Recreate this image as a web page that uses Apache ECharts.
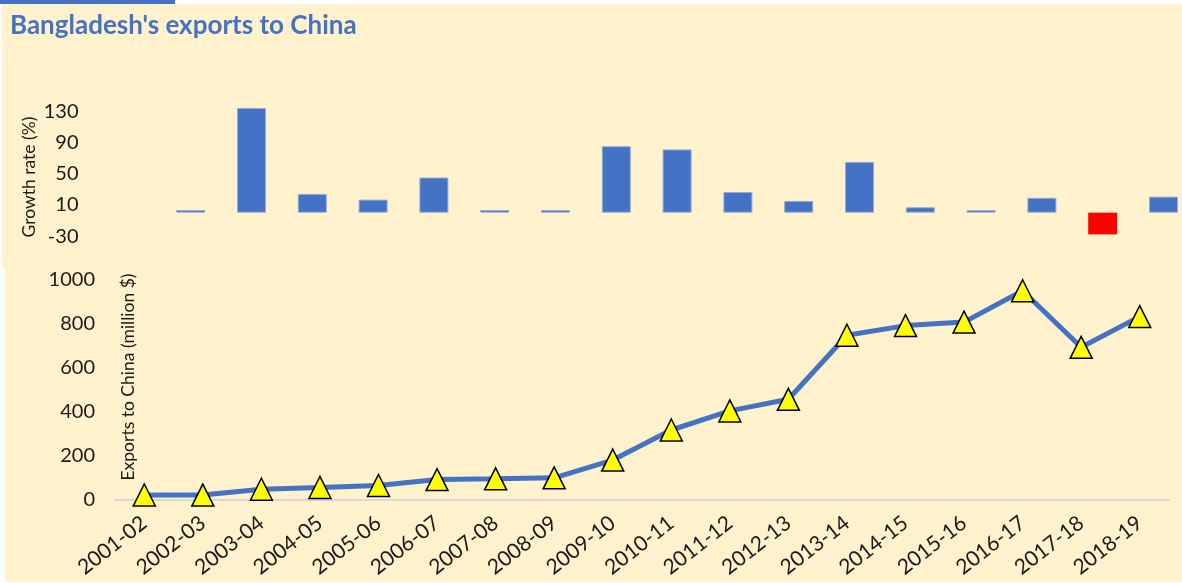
<!DOCTYPE html>
<html><head><meta charset="utf-8">
<script src="https://cdn.jsdelivr.net/npm/echarts@6/dist/echarts.min.js"></script>
<style>html,body{margin:0;padding:0;background:#fff}#c{width:1182px;height:583px}</style>
</head><body><div id="c"></div>
<script>
const categories = ['2001-02','2002-03','2003-04','2004-05','2005-06','2006-07','2007-08','2008-09','2009-10','2010-11','2011-12','2012-13','2013-14','2014-15','2015-16','2016-17','2017-18','2018-19'];
const growthRate = [null, 3.4, 134, 24, 16.7, 45, 3.4, 3.4, 85, 81, 26.5, 15, 65, 6.9, 3.2, 19, -27.8, 20.5];
const exportsValue = [19.6, 19.4, 46, 54, 63, 90, 93.5, 98, 179, 316, 403, 456, 748, 792, 808, 951, 693, 833];
const growthTicks = [-30, 10, 50, 90, 130];
const exportTicks = [0, 200, 400, 600, 800, 1000];

const FONT = 'Lato';
const TXT = '#1a1a1a';
const chart = echarts.init(document.getElementById('c'), null, {renderer: 'canvas'});
chart.setOption({
  animation: false,
  backgroundColor: '#ffffff',
  title: {
    text: "Bangladesh's exports to China",
    left: 10, top: 13, padding: 0,
    textStyle: {fontFamily: FONT, fontWeight: 'bold', fontSize: 26, color: '#4472C4'}
  },
  graphic: [
    {type: 'rect', z: -10, shape: {x: 0, y: 0, width: 175, height: 4}, style: {fill: '#4472C4'}},
    {type: 'rect', z: -10, shape: {x: 2, y: 4, width: 1180, height: 264}, style: {fill: '#FFF2CC'}},
    {type: 'rect', z: -10, shape: {x: 5, y: 262, width: 1177, height: 320}, style: {fill: '#FFF2CC'}},
    {type: 'text', z: 5, x: 29, y: 177, rotation: Math.PI / 2,
      style: {text: 'Growth rate (%)', fontFamily: FONT, fontSize: 17.5, fill: TXT, align: 'center', verticalAlign: 'middle'}},
    {type: 'text', z: 5, x: 128, y: 377, rotation: Math.PI / 2,
      style: {text: 'Exports to China (million $)', fontFamily: FONT, fontSize: 17.5, fill: TXT, align: 'center', verticalAlign: 'middle'}}
  ],
  grid: [
    {left: 129.9, width: 1033.6, top: 103.3, height: 132.8, containLabel: false},
    {left: 115, right: 13, top: 280, height: 219.3, containLabel: false}
  ],
  xAxis: [
    {type: 'category', gridIndex: 0, data: categories, boundaryGap: false,
      axisLine: {show: false}, axisTick: {show: false}, axisLabel: {show: false}, splitLine: {show: false}},
    {type: 'category', gridIndex: 1, data: categories,
      axisLine: {show: true, lineStyle: {color: '#d9d9d9', width: 2}},
      axisTick: {show: false},
      axisLabel: {interval: 0, rotate: 38, margin: 21, fontFamily: FONT, fontSize: 21, color: TXT},
      splitLine: {show: false}}
  ],
  yAxis: [
    {type: 'value', gridIndex: 0, min: -30, max: 140,
      axisLine: {show: false}, axisTick: {show: false}, splitLine: {show: false},
      axisLabel: {customValues: growthTicks, margin: 51.4, fontFamily: FONT, fontSize: 20, color: TXT,
        formatter: v => String(v)}},
    {type: 'value', gridIndex: 1, min: 0, max: 1000, interval: 200,
      axisLine: {show: false}, axisTick: {show: false}, splitLine: {show: false},
      axisLabel: {customValues: exportTicks, margin: 20, fontFamily: FONT, fontSize: 20, color: TXT,
        formatter: v => String(v)}}
  ],
  series: [
    {type: 'bar', xAxisIndex: 0, yAxisIndex: 0, barWidth: 29, clip: false,
      data: growthRate.map(v => v == null ? '-' : (v < 0
        ? {value: v, itemStyle: {color: '#FF0000', borderWidth: 0}}
        : {value: v})),
      itemStyle: {color: '#4472C4', borderColor: '#8FAADC', borderWidth: 1}},
    {type: 'line', xAxisIndex: 1, yAxisIndex: 1, data: exportsValue, z: 3,
      symbol: 'triangle', symbolSize: 22, showAllSymbol: true,
      lineStyle: {width: 5, color: '#4472C4'},
      itemStyle: {color: '#FFFF00', borderColor: '#000000', borderWidth: 1.5}}
  ]
});
</script></body></html>
